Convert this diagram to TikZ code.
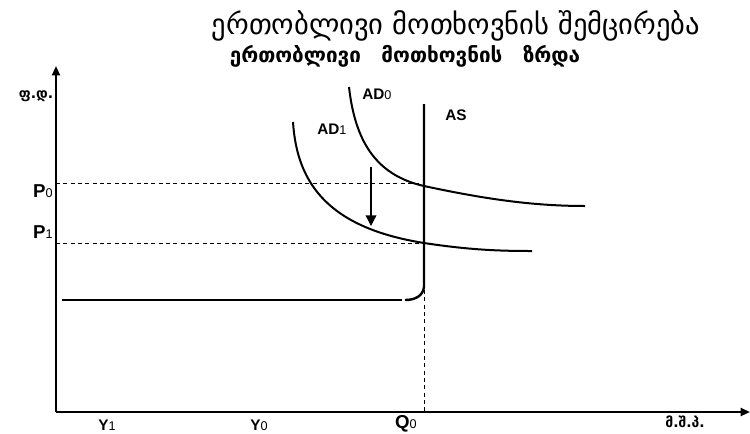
\documentclass[tikz,border=0pt]{standalone}
\usepackage{fontspec}
\setmainfont{Liberation Sans}
\newfontfamily\geo[Script=Georgian]{DejaVu Sans}
\usetikzlibrary{arrows.meta}
\tikzset{
  axis/.style={line width=1.5pt,-{Triangle[width=6pt,length=7pt]}},
  curve/.style={line width=1.5pt},
  guide/.style={line width=0.6pt,dash pattern=on 3pt off 2.5pt},
  lab/.style={inner sep=0pt,font=\fontsize{11.5}{13}\selectfont\bfseries},
  biglab/.style={inner sep=0pt,font=\fontsize{14}{16}\selectfont\bfseries},
  geolab/.style={inner sep=0pt,font=\geo\fontsize{10.5}{12}\selectfont\bfseries},
}
\newcommand{\sbs}[1]{{\fontsize{9.5}{10}\selectfont\mdseries #1}}
\begin{document}
\begin{tikzpicture}[x=0.75pt,y=-0.75pt]
\useasboundingbox (0,0) rectangle (750,433);
% title
\node[inner sep=0pt] (title) at (456,26) {\geo\fontsize{21.4}{24}\selectfont ერთობლივი მოთხოვნის შემცირება};
\node[inner sep=0pt] (sub) at (405,56) {\geo\fontsize{15.5}{17}\selectfont\bfseries ერთობლივი\hspace{10pt} მოთხოვნის\hspace{10pt} ზრდა};
% axes
\coordinate (O) at (56,412);
\coordinate (ytop) at (56,66);
\coordinate (xend) at (750,412);
\draw[axis] (O) -- (ytop);
\draw[axis] (O) -- (xend);
% guides
\coordinate (p0l) at (56,183);
\coordinate (p0r) at (424,183);
\coordinate (p1l) at (56,243);
\coordinate (p1r) at (424,243);
\coordinate (qtop) at (424,290);
\coordinate (qbot) at (424,412);
\draw[guide] (p0l) -- (p0r);
\draw[guide] (p1l) -- (p1r);
\draw[guide] (qtop) -- (qbot);
% AS
\coordinate (astop) at (424,104);
\coordinate (asbot) at (424,287);
\coordinate (asbend) at (405,300);
\coordinate (hstart) at (402,300);
\coordinate (hend) at (62,300);
\draw[line width=1.8pt] (astop) -- (asbot) .. controls (423,296) and (415,300) .. (asbend);
\draw[curve] (hstart) -- (hend);
% AD0
\coordinate (ad0a) at (349,87);
\coordinate (ad0b) at (424,186);
\coordinate (ad0c) at (585,206);
\draw[curve] (ad0a) .. controls (355,140) and (375,175) .. (ad0b) .. controls (480,198) and (530,206) .. (ad0c);
% AD1
\coordinate (ad1a) at (293,122);
\coordinate (ad1b) at (424,243);
\coordinate (ad1c) at (532,251);
\draw[curve] (ad1a) .. controls (297,185) and (330,228) .. (ad1b) .. controls (470,250) and (500,251) .. (ad1c);
% shift arrow
\coordinate (arrs) at (371,167);
\coordinate (arre) at (371,226);
\draw[line width=1pt,-{Triangle[width=8pt,length=8pt]}] (arrs) -- (arre);
% labels
\node[lab,anchor=west] (lad0) at (362,94) {AD\sbs{0}};
\node[lab,anchor=west] (lad1) at (317,129) {AD\sbs{1}};
\node[lab,anchor=west] (las) at (445,115) {AS};
\node[biglab,anchor=east] (lp0) at (53,191) {P\sbs{0}};
\node[biglab,anchor=east] (lp1) at (53,232) {P\sbs{1}};
\node[lab] (ly1) at (107,425) {Y\sbs{1}};
\node[lab] (ly0) at (259,425) {Y\sbs{0}};
\node[biglab] (lq0) at (406,424) {Q\sbs{0}};
\node[geolab] (lx) at (685,422) {მ.შ.პ.};
\node[geolab] (ly) at (36,96) {ფ.დ.};
\end{tikzpicture}
\end{document}
